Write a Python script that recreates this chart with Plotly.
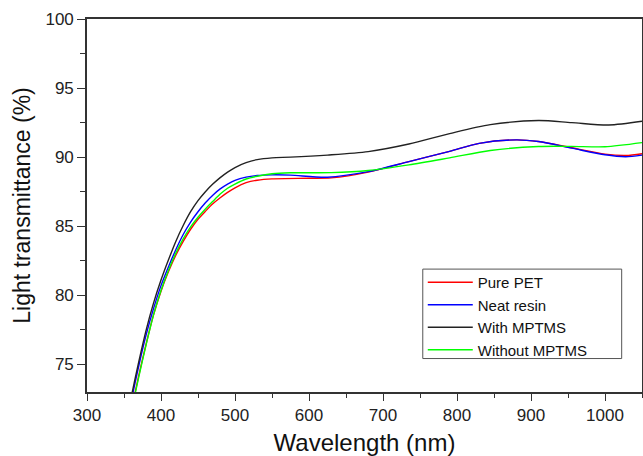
import plotly.graph_objects as go

# Pure PET (red)
pet_x = [355, 360, 370, 380, 390, 400, 410, 420, 430, 440, 450, 460, 470, 480, 490, 500, 515, 530, 550, 600, 630, 680, 735, 790, 830, 880, 910, 955, 1000, 1028, 1050]
pet_y = [70.4, 71.7, 74.2, 76.5, 78.6, 80.3, 81.7, 82.9, 83.9, 84.78, 85.5, 86.08, 86.62, 87.06, 87.45, 87.78, 88.15, 88.33, 88.43, 88.47, 88.5, 88.92, 89.68, 90.42, 91.0, 91.25, 91.13, 90.68, 90.22, 90.12, 90.25]

# Neat resin (blue)
neat_x = [355, 360, 370, 380, 390, 400, 410, 420, 430, 440, 450, 460, 470, 480, 490, 500, 515, 530, 550, 575, 625, 680, 735, 790, 830, 880, 910, 955, 1000, 1028, 1050]
neat_y = [71.1, 72.4, 74.9, 77.15, 79.05, 80.7, 82.05, 83.3, 84.4, 85.3, 86.05, 86.7, 87.25, 87.7, 88.05, 88.32, 88.55, 88.67, 88.72, 88.7, 88.55, 88.95, 89.68, 90.42, 91.0, 91.25, 91.13, 90.65, 90.17, 90.03, 90.15]

# With MPTMS (black)
with_x = [355, 360, 370, 380, 390, 400, 410, 420, 430, 440, 450, 460, 470, 480, 490, 500, 515, 530, 550, 575, 625, 680, 735, 790, 845, 910, 955, 1005, 1050]
with_y = [71.4, 72.7, 75.2, 77.5, 79.45, 81.1, 82.55, 83.9, 85.05, 86.05, 86.85, 87.5, 88.05, 88.52, 88.92, 89.25, 89.6, 89.82, 89.95, 90.0, 90.15, 90.4, 90.95, 91.7, 92.35, 92.65, 92.5, 92.33, 92.6]

# Without MPTMS (green)
without_x = [355, 360, 370, 380, 390, 400, 410, 420, 430, 440, 450, 460, 470, 480, 490, 500, 515, 530, 550, 575, 630, 680, 735, 790, 845, 910, 955, 1000, 1050]
without_y = [70.3, 71.6, 74.1, 76.45, 78.6, 80.35, 81.8, 83.05, 84.08, 84.95, 85.65, 86.25, 86.8, 87.33, 87.75, 88.05, 88.42, 88.62, 88.8, 88.87, 88.88, 89.03, 89.44, 89.95, 90.48, 90.77, 90.78, 90.75, 91.05]

series = [
    ("Pure PET", pet_x, pet_y, "#ff0000"),
    ("Neat resin", neat_x, neat_y, "#0000ff"),
    ("With MPTMS", with_x, with_y, "#222222"),
    ("Without MPTMS", without_x, without_y, "#00ff00"),
]

x_ticks = [300, 400, 500, 600, 700, 800, 900, 1000]
y_ticks = [75, 80, 85, 90, 95, 100]

fig = go.Figure()
for name, xs, ys, col in series:
    fig.add_trace(go.Scatter(x=xs, y=ys, mode="lines", name=name,
                             line=dict(color=col, width=1.4, shape="spline", smoothing=0.8)))

font_family = "Liberation Sans, Arial, sans-serif"
axis_common = dict(showline=True, linecolor="#333333", linewidth=1.6, mirror=True,
                   showgrid=False, zeroline=False, ticks="outside", tickcolor="#333333",
                   tickwidth=1.4, automargin=False,
                   tickfont=dict(family=font_family, size=17, color="#222222"))

fig.update_layout(
    width=643, height=456,
    margin=dict(l=87, r=1, t=19, b=64),
    paper_bgcolor="white", plot_bgcolor="white",
    font=dict(family=font_family, color="#222222"),
    xaxis=dict(range=[300, 1050], tickvals=x_ticks, ticklen=7,
               minor=dict(ticks="outside", dtick=50, tick0=300, ticklen=4, tickcolor="#333333", tickwidth=1.2),
               title=dict(text="Wavelength (nm)", font=dict(size=24, family=font_family, color="#111111"), standoff=11),
               **axis_common),
    yaxis=dict(range=[73, 100], tickvals=y_ticks, ticklen=8,
               minor=dict(ticks="outside", dtick=2.5, tick0=75, ticklen=5, tickcolor="#333333", tickwidth=1.2),
               title=dict(text="Light transmittance (%)", font=dict(size=23, family=font_family, color="#111111"), standoff=8),
               **axis_common),
    legend=dict(x=0.605, y=0.338, xanchor="left", yanchor="top",
                borderwidth=0, bgcolor="rgba(0,0,0,0)",
                font=dict(family=font_family, size=15, color="#111111"),
                tracegroupgap=0, itemwidth=45),
    showlegend=True,
    shapes=[dict(type="rect", xref="paper", yref="paper",
                 x0=0.605, x1=0.9634, y0=0.0897, y1=0.3295,
                 line=dict(color="#555555", width=1), fillcolor="rgba(0,0,0,0)", layer="above")],
)

fig.write_html("out.html", config={"displayModeBar": False},
               post_script="document.body.style.margin='0';document.body.style.overflow='hidden';")
